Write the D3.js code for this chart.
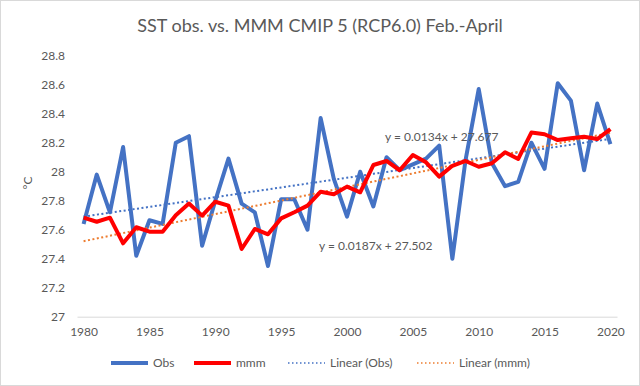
<!DOCTYPE html>
<html>
<head>
<meta charset="utf-8">
<script src="https://cdn.jsdelivr.net/npm/d3@7/dist/d3.min.js"></script>
<style>
  body { margin: 0; background: #fff; }
  svg { display: block; font-family: Lato, "Liberation Sans", sans-serif; }
</style>
</head>
<body>
<div id="chart"></div>
<script>
// data
var years = d3.range(1980, 2021);
var obs = [27.64, 27.98, 27.72, 28.17, 27.42, 27.665, 27.64, 28.20, 28.245, 27.49,
           27.80, 28.09, 27.78, 27.72, 27.35, 27.81, 27.81, 27.60, 28.37, 27.95,
           27.69, 28.00, 27.76, 28.10, 28.01, 28.05, 28.09, 28.18, 27.40, 28.08,
           28.57, 28.06, 27.90, 27.93, 28.20, 28.02, 28.61, 28.49, 28.01, 28.47,
           28.19];
var mmm = [27.683, 27.655, 27.683, 27.506, 27.617, 27.586, 27.586, 27.70, 27.78, 27.697,
           27.793, 27.766, 27.467, 27.605, 27.568, 27.678, 27.72, 27.766, 27.862, 27.844,
           27.897, 27.858, 28.046, 28.074, 28.01, 28.115, 28.065, 27.966, 28.041, 28.074,
           28.034, 28.058, 28.134, 28.088, 28.27, 28.258, 28.218, 28.23, 28.241, 28.225,
           28.294];
// trendline coefficients as printed on the chart (x = 1..41)
var trendObs = { slope: 0.0134, intercept: 27.677 };
var trendMmm = { slope: 0.0187, intercept: 27.502 };
var yTicks = [27, 27.2, 27.4, 27.6, 27.8, 28, 28.2, 28.4, 28.6, 28.8];
var xTicks = [1980, 1985, 1990, 1995, 2000, 2005, 2010, 2015, 2020];
var legendNames = ["Obs", "mmm", "Linear (Obs)", "Linear (mmm)"];

var W = 640, H = 386;
var textCol = "#595959";

var svg = d3.select("#chart").append("svg")
  .attr("width", W)
  .attr("height", H);

// chart area border
svg.append("rect")
  .attr("x", 0.5).attr("y", 0.5)
  .attr("width", W - 1).attr("height", H - 1)
  .attr("fill", "#fff")
  .attr("stroke", "#d9d9d9");

var x = d3.scaleLinear()
  .domain([1979.5, 2020.5])
  .range([77, 617]);

var y = d3.scaleLinear()
  .domain([27, 28.8])
  .range([316.7, 55.7]);

// title
svg.append("text")
  .attr("x", 320)
  .attr("y", 32)
  .attr("text-anchor", "middle")
  .style("font-size", "18px")
  .style("fill", textCol)
  .text("SST obs. vs. MMM CMIP 5 (RCP6.0) Feb.-April");

// x axis
var xAxis = svg.append("g")
  .attr("transform", "translate(0," + y(27) + ")")
  .call(d3.axisBottom(x).tickValues(xTicks).tickFormat(d3.format("d"))
    .tickSizeInner(0).tickSizeOuter(0).tickPadding(11));
xAxis.select(".domain").attr("stroke", "#d9d9d9").attr("stroke-width", 1);
xAxis.selectAll("text").style("font-size", "12px").style("fill", textCol)
  .style("font-family", "Lato, sans-serif");

// y axis
var yAxis = svg.append("g")
  .attr("transform", "translate(" + x.range()[0] + ",0)")
  .call(d3.axisLeft(y).tickValues(yTicks).tickFormat(function(d) { return String(+d.toFixed(1)); })
    .tickSize(0).tickPadding(12));
yAxis.select(".domain").remove();
yAxis.selectAll("text").style("font-size", "12px").style("fill", textCol)
  .style("font-family", "Lato, sans-serif");

// y axis title
svg.append("text")
  .attr("transform", "translate(32," + 183 + ")rotate(-90)")
  .attr("text-anchor", "middle")
  .style("font-size", "12px")
  .style("fill", textCol)
  .text("°C");

// trendlines
function trendPts(t) {
  return years.map(function(yr, i) { return { yr: yr, v: t.intercept + t.slope * (i + 1) }; });
}
var line = d3.line()
  .x(function(d) { return x(d.yr); })
  .y(function(d) { return y(d.v); });

var plot = svg.append("g");

var series = [
  { name: legendNames[0], pts: years.map(function(yr, i) { return { yr: yr, v: obs[i] }; }), color: "#4472C4", width: 4, dash: null },
  { name: legendNames[1], pts: years.map(function(yr, i) { return { yr: yr, v: mmm[i] }; }), color: "#FF0000", width: 4, dash: null },
  { name: legendNames[2], pts: trendPts(trendObs), color: "#4472C4", width: 2, dash: "2,2.5" },
  { name: legendNames[3], pts: trendPts(trendMmm), color: "#ED7D31", width: 2, dash: "2,2.5" }
];

// draw order: obs, trend lines, mmm on top
[series[0], series[2], series[3], series[1]].forEach(function(s) {
  plot.append("path")
    .datum(s.pts)
    .attr("fill", "none")
    .attr("stroke", s.color)
    .attr("stroke-width", s.width)
    .attr("stroke-linejoin", "round")
    .attr("stroke-dasharray", s.dash)
    .attr("d", line);
});

// trendline equations
svg.append("text")
  .attr("x", 385).attr("y", 141)
  .style("font-size", "12px").style("fill", textCol)
  .text("y = " + trendObs.slope + "x + " + trendObs.intercept);
svg.append("text")
  .attr("x", 319).attr("y", 250)
  .style("font-size", "12px").style("fill", textCol)
  .text("y = " + trendMmm.slope + "x + " + trendMmm.intercept);

// legend
var legendX = [111, 194, 288, 417];
var legend = svg.append("g").attr("transform", "translate(0,363)");
series.forEach(function(s, i) {
  legend.append("line")
    .attr("x1", legendX[i]).attr("x2", legendX[i] + 37)
    .attr("y1", 0).attr("y2", 0)
    .attr("stroke", s.color)
    .attr("stroke-width", s.dash ? 1.5 : 4)
    .attr("stroke-dasharray", s.dash ? "1.5,2.5" : null);
  legend.append("text")
    .attr("x", legendX[i] + 42)
    .attr("y", 4)
    .style("font-size", "12px").style("fill", textCol)
    .text(s.name);
});
</script>
</body>
</html>
